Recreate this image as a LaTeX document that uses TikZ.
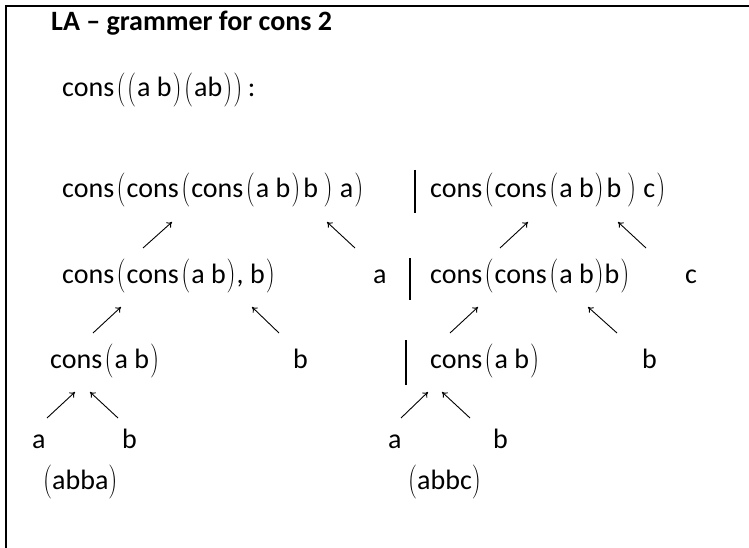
\documentclass[tikz,border=0pt]{standalone}
\usepackage{graphicx}
\usepackage{fontspec}
\setmainfont{Carlito}
\usetikzlibrary{arrows.meta}
\newcommand{\pglyph}[1]{\raisebox{-1.5pt}{\resizebox*{9pt}{34pt}{\fontfamily{lmr}\selectfont#1}}}
\newcommand{\lp}{\hspace{2.5pt}\pglyph{(}\hspace{1pt}}
\newcommand{\rp}{\hspace{1pt}\pglyph{)}\hspace{1pt}}
\begin{document}
\begin{tikzpicture}[x=1pt,y=-1pt,
  txt/.style={inner sep=0pt, anchor=base west, font=\fontsize{28}{34}\selectfont},
  ttl/.style={inner sep=0pt, anchor=base west, font=\fontsize{28}{34}\selectfont\bfseries},
  bar/.style={line width=2.6pt},
  frame/.style={line width=2.4pt},
  arr/.style={line width=0.9pt, -{To[length=5pt,width=7pt]}}]
\useasboundingbox (0,0) rectangle (749,548);
% frame
\coordinate (fbl) at (6,548);
\coordinate (ftl) at (6,6);
\coordinate (ftr) at (749,6);
\draw[frame] (fbl) -- (ftl) -- (ftr);
% title
\node[ttl] (title) at (51,31) {LA -- grammer for cons 2};
% row 0
\node[txt] (r0) at (62,97) {cons\lp\hspace{-2pt}\lp a b\rp\hspace{-1pt}\lp ab\rp\hspace{-1pt}\rp\,:};
% row 1
\node[txt] (r1l) at (62,197) {cons\lp cons\lp cons\lp a b\rp\hspace{2pt}b\,\rp\ a\rp};
\node[txt] (r1r) at (430,197) {cons\lp cons\lp a b\rp\hspace{2pt}b\,\rp\ c\rp};
\coordinate (b1t) at (415,170); \coordinate (b1b) at (415,213);
\draw[bar] (b1t) -- (b1b);
% arrows row2 -> row1
\coordinate (a1s) at (143,248); \coordinate (a1e) at (172,222);
\coordinate (a2s) at (355,248); \coordinate (a2e) at (327,222);
\coordinate (a3s) at (500,248); \coordinate (a3e) at (528,222);
\coordinate (a4s) at (646,248); \coordinate (a4e) at (618,222);
\draw[arr] (a1s) -- (a1e);
\draw[arr] (a2s) -- (a2e);
\draw[arr] (a3s) -- (a3e);
\draw[arr] (a4s) -- (a4e);
% row 2
\node[txt] (r2l) at (62,283) {cons\lp cons\lp a b\rp, b\rp};
\node[txt] (r2a) at (373,283) {a};
\coordinate (b2t) at (410,258); \coordinate (b2b) at (410,300);
\draw[bar] (b2t) -- (b2b);
\node[txt] (r2r) at (430,283) {cons\lp cons\lp a b\rp b\rp};
\node[txt] (r2c) at (685,283) {c};
% arrows row3 -> row2
\coordinate (c1s) at (93,333); \coordinate (c1e) at (121,307);
\coordinate (c2s) at (279,333); \coordinate (c2e) at (252,307);
\coordinate (c3s) at (450,333); \coordinate (c3e) at (478,307);
\coordinate (c4s) at (617,333); \coordinate (c4e) at (588,307);
\draw[arr] (c1s) -- (c1e);
\draw[arr] (c2s) -- (c2e);
\draw[arr] (c3s) -- (c3e);
\draw[arr] (c4s) -- (c4e);
% row 3
\node[txt] (r3l) at (50,368) {cons\lp a b\rp};
\node[txt] (r3b) at (293,368) {b};
\coordinate (b3t) at (406,340); \coordinate (b3b) at (406,385);
\draw[bar] (b3t) -- (b3b);
\node[txt] (r3r) at (430,368) {cons\lp a b\rp};
\node[txt] (r3b2) at (642,368) {b};
% arrows row4 -> row3
\coordinate (d1s) at (47,418); \coordinate (d1e) at (75,392);
\coordinate (d2s) at (118,418); \coordinate (d2e) at (90,392);
\coordinate (d3s) at (401,418); \coordinate (d3e) at (428,392);
\coordinate (d4s) at (470,418); \coordinate (d4e) at (442,392);
\draw[arr] (d1s) -- (d1e);
\draw[arr] (d2s) -- (d2e);
\draw[arr] (d3s) -- (d3e);
\draw[arr] (d4s) -- (d4e);
% row 4
\node[txt] (r4a1) at (32,448) {a};
\node[txt] (r4b1) at (122,448) {b};
\node[txt] (r4a2) at (388,448) {a};
\node[txt] (r4b2) at (493,448) {b};
% row 5
\node[txt] (r5l) at (43,489) {\pglyph{(}abba\pglyph{)}};
\node[txt] (r5r) at (408,489) {\pglyph{(}abbc\pglyph{)}};
\end{tikzpicture}
\end{document}
